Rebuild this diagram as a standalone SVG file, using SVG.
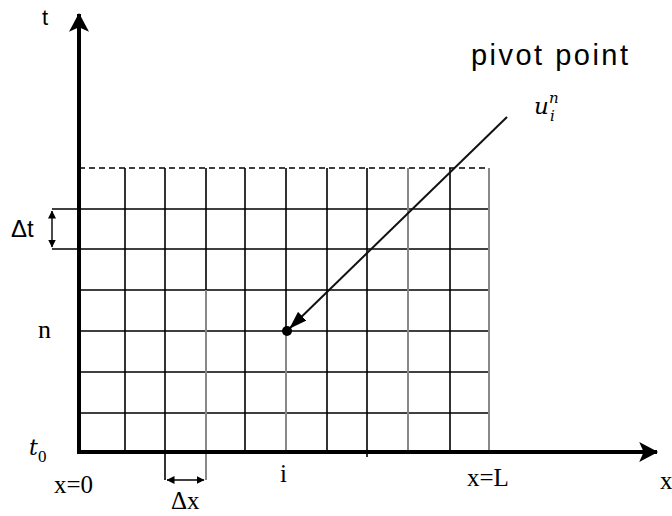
<svg xmlns="http://www.w3.org/2000/svg" width="672" height="516" viewBox="0 0 672 516">
<style>
.g{stroke:#000;stroke-width:1.6;fill:none}
.gg{stroke:#888;stroke-width:2;fill:none}
.ax{stroke:#000;stroke-width:4;fill:none}
.dim{stroke:#000;stroke-width:1.4;fill:none}
.serif{font-family:"Liberation Serif","Times New Roman",serif;fill:#000}
.math{font-family:"DejaVu Serif","Liberation Serif",serif;font-style:italic;fill:#000}
.sans{font-family:"Liberation Sans",Arial,sans-serif;fill:#000}
</style>
<defs>
<marker id="axhead" markerUnits="userSpaceOnUse" markerWidth="20" markerHeight="20" viewBox="0 0 18 18" refX="16" refY="9" orient="auto">
<path d="M0,0 L17,9 L0,18 L4,9 z" fill="#000"/>
</marker>
<marker id="ptr" markerUnits="userSpaceOnUse" markerWidth="18" markerHeight="12" viewBox="0 0 18 12" refX="17" refY="6" orient="auto">
<path d="M0,0 L18,6 L0,12 z" fill="#000"/>
</marker>
<marker id="dh" markerUnits="userSpaceOnUse" markerWidth="8" markerHeight="8" viewBox="0 0 8 8" refX="7.5" refY="4" orient="auto-start-reverse">
<path d="M0,0 L8,4 L0,8 z" fill="#000"/>
</marker>
</defs>

<g id="grid">
<line class="g" x1="79" y1="168" x2="489" y2="168" stroke-dasharray="6,4"/>
<line class="g" x1="52" y1="209" x2="489" y2="209"/>
<line class="g" x1="52" y1="249" x2="489" y2="249"/>
<line class="g" x1="79" y1="290" x2="489" y2="290"/>
<line class="g" x1="79" y1="331" x2="489" y2="331"/>
<line class="g" x1="79" y1="372" x2="489" y2="372"/>
<line class="g" x1="79" y1="413" x2="489" y2="413"/>
<line class="g" x1="125" y1="168" x2="125" y2="452"/>
<line class="g" x1="165" y1="168" x2="165" y2="480"/>
<line class="g" x1="206" y1="168" x2="206" y2="290"/>
<line class="gg" x1="206" y1="290" x2="206" y2="480"/>
<line class="g" x1="245" y1="168" x2="245" y2="452"/>
<line class="g" x1="286" y1="168" x2="286" y2="331"/>
<line class="gg" x1="286" y1="331" x2="286" y2="452"/>
<line class="g" x1="327" y1="168" x2="327" y2="452"/>
<line class="g" x1="367" y1="168" x2="367" y2="457"/>
<line class="gg" x1="408" y1="168" x2="408" y2="452"/>
<line class="g" x1="450" y1="168" x2="450" y2="452"/>
<line class="gg" x1="489" y1="168" x2="489" y2="452"/>
</g>

<g id="axes">
<line class="ax" x1="79" y1="454" x2="79" y2="14" marker-end="url(#axhead)"/>
<line class="ax" x1="77" y1="452" x2="657" y2="452" marker-end="url(#axhead)"/>
</g>

<g id="connectors">
<line class="dim" x1="52" y1="211" x2="52" y2="247" marker-start="url(#dh)" marker-end="url(#dh)"/>
<line class="dim" x1="167" y1="480" x2="204" y2="480" marker-start="url(#dh)" marker-end="url(#dh)"/>
<line x1="507" y1="117" x2="290" y2="328" stroke="#111" stroke-width="2" marker-end="url(#ptr)"/>
</g>

<g id="pivot">
<circle cx="287" cy="331" r="5" fill="#000"/>
<text class="sans" x="471" y="65" font-size="29" textLength="157" lengthAdjust="spacing">pivot point</text>
<text class="math" x="534" y="114" font-size="23">u</text>
<text class="math" x="549" y="103" font-size="15">n</text>
<text class="math" x="550" y="121" font-size="15">i</text>
</g>

<g id="labels">
<text class="sans" x="42" y="25" font-size="22">t</text>
<text class="sans" x="11" y="237" font-size="24">Δt</text>
<text class="serif" x="38" y="338" font-size="26">n</text>
<text class="math" x="29" y="455" font-size="22">t</text>
<text class="serif" x="38" y="462" font-size="17">0</text>
<text class="serif" x="54" y="493" font-size="25">x=0</text>
<text class="serif" x="171" y="509" font-size="25">Δx</text>
<text class="serif" x="280" y="482" font-size="25">i</text>
<text class="serif" x="467" y="486" font-size="25">x=L</text>
<text class="serif" x="660" y="489" font-size="25">x</text>
</g>
</svg>
